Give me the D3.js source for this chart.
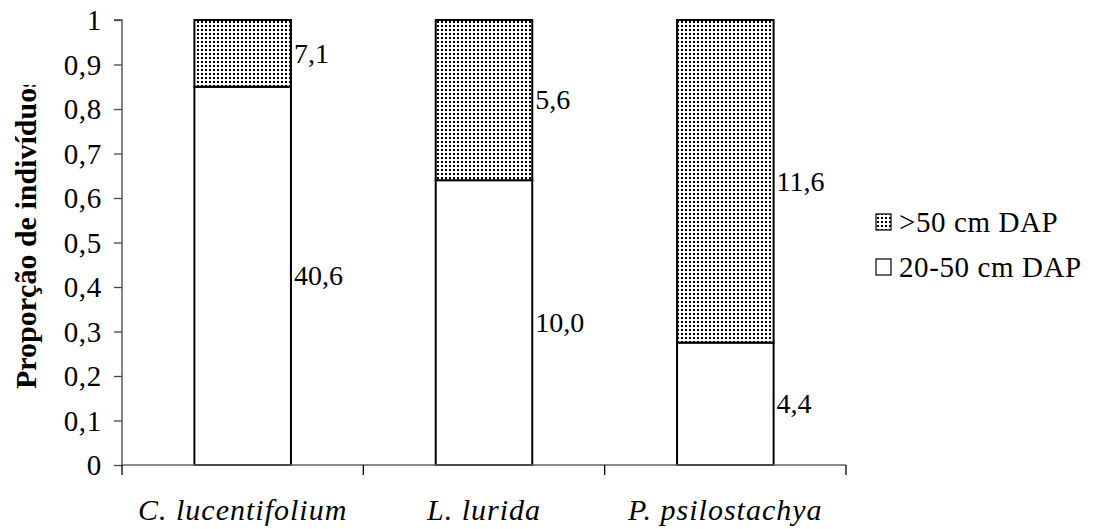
<!DOCTYPE html>
<html>
<head>
<meta charset="utf-8">
<script src="https://cdn.jsdelivr.net/npm/d3@7"></script>
<style>
html,body{margin:0;padding:0;background:#fff;}
svg{display:block;}
svg text{font-family:'Liberation Serif','Tinos','Times New Roman','DejaVu Serif',serif;fill:#000;}
</style>
</head>
<body>
<svg id="chart" width="1105" height="529"></svg>
<script>
const categories = ["C. lucentifolium", "L. lurida", "P. psilostachya"];
const seriesNames = ["20-50 cm DAP", ">50 cm DAP"];
const small = [0.85, 0.64, 0.275];      // 20-50 cm DAP proportion
const large = [0.15, 0.36, 0.725];      // >50 cm DAP proportion
const smallLabels = ["40,6", "10,0", "4,4"];
const largeLabels = ["7,1", "5,6", "11,6"];
const yTicks = [0, 0.1, 0.2, 0.3, 0.4, 0.5, 0.6, 0.7, 0.8, 0.9, 1];
const yTitle = "Proporção de indivíduos";

const FONT = "'Liberation Serif', 'Tinos', 'Times New Roman', 'DejaVu Serif', serif";
const svg = d3.select("#chart");
const m = {left: 122, right: 846, top: 20, bottom: 465};

const defs = svg.append("defs");
const pat = defs.append("pattern").attr("id","dots").attr("patternUnits","userSpaceOnUse")
  .attr("width",4).attr("height",4);
pat.append("rect").attr("width",4).attr("height",4).attr("fill","#fff");
pat.append("rect").attr("x",1).attr("y",1).attr("width",2).attr("height",2).attr("fill","#000");

const x = d3.scaleBand().domain(categories).range([m.left, m.right]).padding(0);
const y = d3.scaleLinear().domain([0,1]).range([m.bottom, m.top]);
const barW = x.bandwidth()*0.4;

const data = categories.map((c,i)=>({c, s:small[i], l:large[i], sl:smallLabels[i], ll:largeLabels[i]}));

// bars
const g = svg.append("g");
data.forEach(d=>{
  const x0 = x(d.c) + (x.bandwidth()-barW)/2;
  g.append("rect").attr("x",x0).attr("y",y(d.s)).attr("width",barW).attr("height",y(0)-y(d.s))
    .attr("fill","#fff").attr("stroke","#000").attr("stroke-width",2);
  g.append("rect").attr("x",x0).attr("y",y(d.s+d.l)).attr("width",barW).attr("height",y(d.s)-y(d.s+d.l))
    .attr("fill","url(#dots)").attr("stroke","#000").attr("stroke-width",2);
  g.append("text").attr("x",x0+barW+3).attr("y",(y(0)+y(d.s))/2).attr("dy","0.33em")
    .attr("font-family",FONT).attr("font-size",28).text(d.sl);
  g.append("text").attr("x",x0+barW+3).attr("y",(y(d.s)+y(d.s+d.l))/2).attr("dy","0.33em")
    .attr("font-family",FONT).attr("font-size",28).text(d.ll);
});

// y axis
const yAxis = d3.axisLeft(y).tickValues(yTicks).tickSize(8).tickPadding(12)
  .tickFormat(v=>String(v).replace(".",","));
const ya = svg.append("g").attr("transform",`translate(${m.left},0)`).call(yAxis)
  .attr("font-family",FONT).attr("font-size",29);
ya.select(".domain").attr("stroke","#444").attr("stroke-width",1.3).attr("d",`M-8,${m.top}H0V${m.bottom}`);
ya.selectAll(".tick line").attr("stroke","#444").attr("stroke-width",1.3);
ya.selectAll(".tick text").attr("font-size",29).attr("font-family",FONT).attr("fill","#000")
  .attr("dy","0.33em").attr("letter-spacing",0.7);

// x axis
const xa = svg.append("g").attr("transform",`translate(0,${m.bottom})`);
xa.append("line").attr("x1",m.left).attr("x2",m.right).attr("y1",0).attr("y2",0).attr("stroke","#666").attr("stroke-width",1.3);
const xt = [m.left, ...categories.map(c=>x(c)+x.bandwidth())];
xt.forEach(v=>xa.append("line").attr("x1",v).attr("x2",v).attr("y1",0).attr("y2",10).attr("stroke","#000").attr("stroke-width",1.3));
categories.forEach(c=>{
  xa.append("text").attr("x",x(c)+x.bandwidth()/2).attr("y",55).attr("text-anchor","middle")
    .attr("font-family",FONT).attr("font-size",30).attr("letter-spacing",1).attr("font-style","italic").text(c);
});

// y title (clipped like original)
defs.append("clipPath").attr("id","tclip").append("rect").attr("x",0).attr("y",85).attr("width",60).attr("height",420);
svg.append("g").attr("clip-path","url(#tclip)").append("text")
  .attr("transform","translate(36,389) rotate(-90)")
  .attr("font-family",FONT).attr("font-size",30).attr("font-weight","bold").text(yTitle);

// legend
const leg = svg.append("g");
const legItems = [{name:seriesNames[1], fill:"url(#dots)", y:222},{name:seriesNames[0], fill:"#fff", y:267}];
legItems.forEach(it=>{
  leg.append("rect").attr("x",876).attr("y",it.y-8).attr("width",15).attr("height",16)
    .attr("fill",it.fill).attr("stroke","#000").attr("stroke-width",1.2);
  leg.append("text").attr("x",899).attr("y",it.y).attr("dy","0.33em")
    .attr("font-family",FONT).attr("font-size",29).attr("letter-spacing",0.6).text(it.name);
});
</script>
</body>
</html>
